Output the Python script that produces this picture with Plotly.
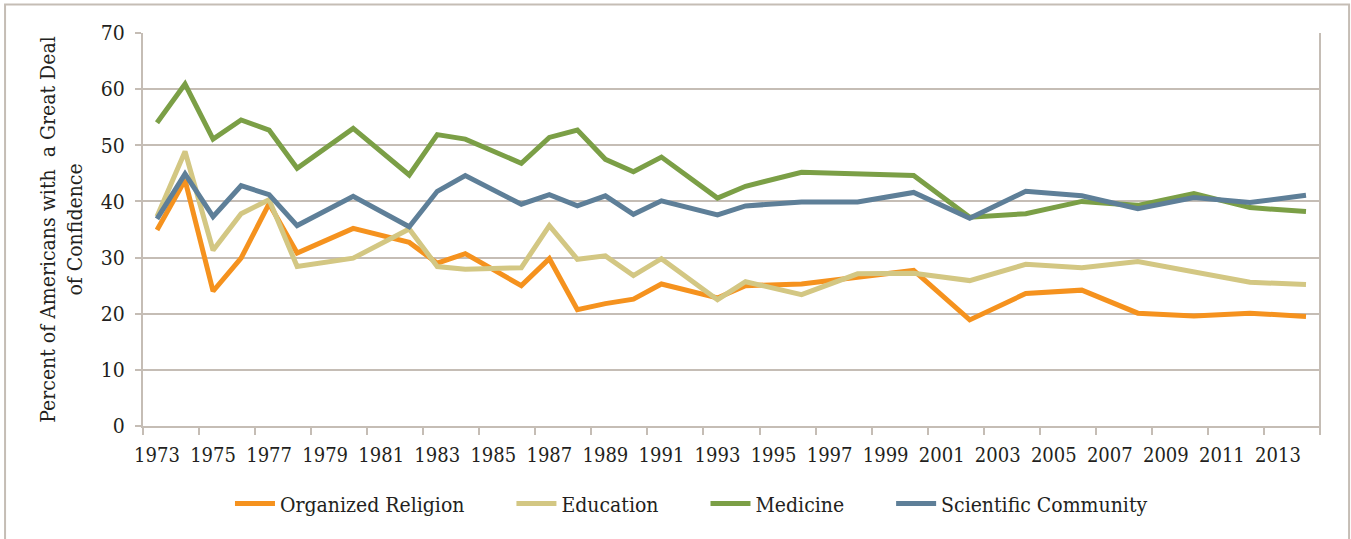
import plotly.graph_objects as go

# GSS survey years
years = [1973, 1974, 1975, 1976, 1977, 1978, 1980, 1982, 1983, 1984, 1986, 1987, 1988,
         1989, 1990, 1991, 1993, 1994, 1996, 1998, 2000, 2002, 2004, 2006, 2008, 2010,
         2012, 2014]

religion = [34.9, 43.8, 24.0, 29.9, 39.6, 30.8, 35.2, 32.7, 29.0, 30.7, 25.0, 29.8, 20.7,
            21.8, 22.6, 25.3, 22.8, 25.0, 25.3, 26.6, 27.7, 18.9, 23.6, 24.2, 20.1, 19.6,
            20.1, 19.5]
education = [37.3, 48.9, 31.3, 37.8, 40.3, 28.4, 29.9, 35.1, 28.4, 27.9, 28.2, 35.7, 29.7,
             30.3, 26.8, 29.8, 22.5, 25.7, 23.4, 27.1, 27.2, 25.9, 28.8, 28.2, 29.3, 27.5,
             25.6, 25.2]
medicine = [54.0, 60.9, 51.1, 54.5, 52.7, 45.9, 53.0, 44.7, 51.9, 51.1, 46.8, 51.4, 52.7,
            47.5, 45.3, 47.9, 40.6, 42.7, 45.2, 44.9, 44.6, 37.2, 37.8, 40.0, 39.3, 41.4,
            38.9, 38.2]
science = [36.9, 44.9, 37.3, 42.8, 41.2, 35.7, 40.9, 35.5, 41.8, 44.6, 39.5, 41.2, 39.2,
           41.0, 37.7, 40.1, 37.6, 39.2, 39.9, 39.9, 41.6, 37.0, 41.8, 41.0, 38.7, 40.7,
           39.8, 41.1]

tick_years = list(range(1973, 2014, 2))

pad = "\u00a0" * 7  # extra room between legend entries
series = [
    ("Organized Religion" + pad, religion, "#F5921E"),
    ("Education" + pad, education, "#D3C783"),
    ("Medicine" + pad, medicine, "#7B9F46"),
    ("Scientific Community", science, "#5E7F98"),
]

grid = "#C5BDB5"
font_family = "DejaVu Serif Condensed, DejaVu Serif, serif"

fig = go.Figure()
for name, vals, color in series:
    fig.add_trace(go.Scatter(x=years, y=vals, name=name, mode="lines",
                             line=dict(color=color, width=5)))

fig.update_layout(
    width=1351, height=539,
    margin=dict(l=143, r=31, t=33, b=113),
    paper_bgcolor="white", plot_bgcolor="white",
    font=dict(family=font_family, size=21, color="#231F20"),
    showlegend=True,
    legend=dict(orientation="h", x=0.466, xanchor="center", y=-0.198, yanchor="middle",
                font=dict(size=21), itemwidth=40),
    xaxis=dict(range=[1972.5, 2014.5], tickvals=tick_years, ticktext=[str(y) for y in tick_years],
               showgrid=False, showline=True, linecolor=grid, linewidth=2,
               ticks="outside", ticklen=0, ticklabelstandoff=10,
               minor=dict(tickmode="linear", tick0=1972.5, dtick=2, ticks="outside",
                          ticklen=7, tickcolor=grid, tickwidth=2, showgrid=False),
               tickfont=dict(size=20)),
    yaxis=dict(range=[0, 70], dtick=10, showgrid=True, gridcolor=grid, gridwidth=2,
               showline=True, linecolor=grid, linewidth=2, ticks="outside", ticklen=6,
               tickcolor=grid, tickwidth=2, ticklabelstandoff=6, tickfont=dict(size=21),
               title=dict(text="Percent of Americans with \u00a0a Great Deal<br>of Confidence",
                          font=dict(size=21, weight=500), standoff=12)),
    shapes=[dict(type="rect", xref="paper", yref="paper", x0=-0.1172, x1=1.0247,
                 y0=-0.32, y1=1.0725, line=dict(color=grid, width=2), layer="below"),
            dict(type="line", xref="paper", yref="paper", x0=1, x1=1, y0=-0.018, y1=1,
                 line=dict(color=grid, width=2))],
)

fig.write_html("out.html", config={"displayModeBar": False},
               post_script="document.body.style.margin='0';")
